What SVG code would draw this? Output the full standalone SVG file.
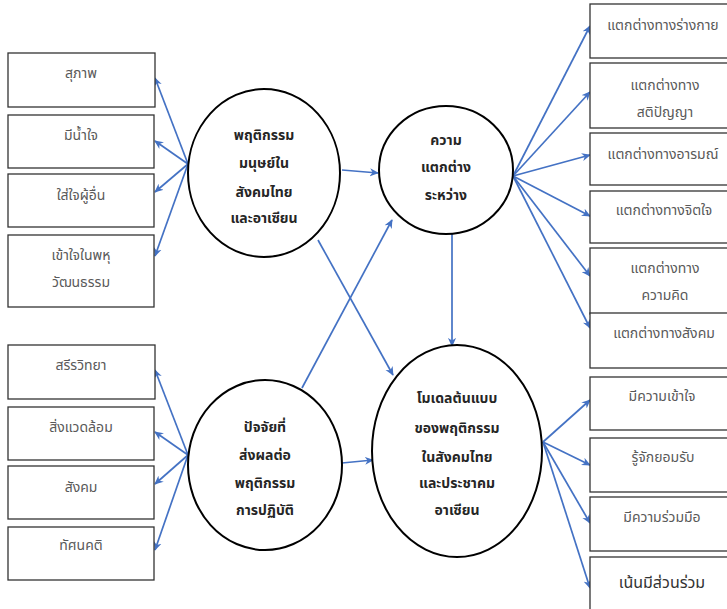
<svg xmlns="http://www.w3.org/2000/svg" width="727" height="609" viewBox="0 0 727 609">
<defs>
<marker id="ah" viewBox="0 0 10 10" refX="9" refY="5" markerWidth="9" markerHeight="9" markerUnits="userSpaceOnUse" orient="auto">
<path d="M0,0.5 L10,5 L0,9.5 L3,5 Z" fill="#4472C4"/>
</marker>
<style>
.box{fill:#fff;stroke:#333;stroke-width:1.3}
.ell{fill:#fff;stroke:#000;stroke-width:2}
.bt{font-family:"Noto Sans Thai","Tahoma","Liberation Sans",sans-serif;font-size:14px;fill:#595959;text-anchor:middle}
.ct{font-family:"Noto Sans Thai","Tahoma","Liberation Sans",sans-serif;font-size:14px;font-weight:bold;fill:#262626;text-anchor:middle}
.cn{fill:none;stroke:#4472C4;stroke-width:1.7;marker-end:url(#ah)}
</style>
</defs>
<rect width="727" height="609" fill="#fff"/>

<g id="connectors">
<line class="cn" x1="188" y1="164" x2="155" y2="78"/>
<line class="cn" x1="188" y1="164" x2="155" y2="141"/>
<line class="cn" x1="188" y1="164" x2="155" y2="192"/>
<line class="cn" x1="188" y1="164" x2="155" y2="256"/>
<line class="cn" x1="342" y1="170" x2="378" y2="173"/>
<line class="cn" x1="513" y1="176" x2="590" y2="26"/>
<line class="cn" x1="513" y1="176" x2="590" y2="92"/>
<line class="cn" x1="513" y1="176" x2="590" y2="155"/>
<line class="cn" x1="513" y1="176" x2="590" y2="216"/>
<line class="cn" x1="513" y1="176" x2="590" y2="276"/>
<line class="cn" x1="513" y1="176" x2="590" y2="328"/>
<line class="cn" x1="452" y1="234" x2="452" y2="346"/>
<line class="cn" x1="318" y1="240" x2="393" y2="375"/>
<line class="cn" x1="302" y1="388" x2="392" y2="220"/>
<line class="cn" x1="188" y1="455" x2="155" y2="370"/>
<line class="cn" x1="188" y1="455" x2="155" y2="432"/>
<line class="cn" x1="188" y1="455" x2="155" y2="484"/>
<line class="cn" x1="188" y1="455" x2="155" y2="550"/>
<line class="cn" x1="342" y1="463" x2="373" y2="460"/>
<line class="cn" x1="543" y1="442" x2="590" y2="400"/>
<line class="cn" x1="543" y1="442" x2="590" y2="465"/>
<line class="cn" x1="543" y1="442" x2="590" y2="523"/>
<line class="cn" x1="543" y1="442" x2="590" y2="588"/>
</g>

<g id="n-suphap"><rect class="box" x="8" y="53" width="147" height="54"/><text class="bt" x="81" y="78">สุภาพ</text></g>
<g id="n-mi-namjai"><rect class="box" x="8" y="115" width="146" height="53"/><text class="bt" x="81" y="140">มีน้ำใจ</text></g>
<g id="n-saijai"><rect class="box" x="8" y="174" width="146" height="53"/><text class="bt" x="81" y="200">ใส่ใจผู้อื่น</text></g>
<g id="n-khaojai"><rect class="box" x="8" y="235" width="146" height="72"/><text class="bt" x="81" y="260">เข้าใจในพหุ</text><text class="bt" x="81" y="287">วัฒนธรรม</text></g>

<g id="n-sari"><rect class="box" x="8" y="345" width="147" height="54"/><text class="bt" x="81" y="370">สรีรวิทยา</text></g>
<g id="n-singwaed"><rect class="box" x="8" y="407" width="146" height="53"/><text class="bt" x="81" y="432">สิ่งแวดล้อม</text></g>
<g id="n-sangkhom"><rect class="box" x="8" y="466" width="146" height="53"/><text class="bt" x="81" y="492">สังคม</text></g>
<g id="n-thatsanakhati"><rect class="box" x="8" y="527" width="146" height="53"/><text class="bt" x="81" y="550">ทัศนคติ</text></g>

<g id="n-behavior"><ellipse class="ell" cx="264" cy="173" rx="76" ry="84"/>
<text class="ct" x="264" y="140">พฤติกรรม</text><text class="ct" x="264" y="168">มนุษย์ใน</text><text class="ct" x="264" y="197">สังคมไทย</text><text class="ct" x="264" y="223">และอาเซียน</text></g>

<g id="n-difference"><ellipse class="ell" cx="446" cy="170" rx="67" ry="64"/>
<text class="ct" x="446" y="145">ความ</text><text class="ct" x="446" y="172">แตกต่าง</text><text class="ct" x="446" y="200">ระหว่าง</text></g>

<g id="n-factors"><ellipse class="ell" cx="265" cy="465" rx="77" ry="85"/>
<text class="ct" x="265" y="432">ปัจจัยที่</text><text class="ct" x="265" y="460">ส่งผลต่อ</text><text class="ct" x="265" y="488">พฤติกรรม</text><text class="ct" x="265" y="515">การปฏิบัติ</text></g>

<g id="n-model"><ellipse class="ell" cx="457" cy="451" rx="85" ry="106"/>
<text class="ct" x="457" y="403">โมเดลต้นแบบ</text><text class="ct" x="457" y="433">ของพฤติกรรม</text><text class="ct" x="457" y="462">ในสังคมไทย</text><text class="ct" x="457" y="488">และประชาคม</text><text class="ct" x="457" y="515">อาเซียน</text></g>

<g id="n-body"><rect class="box" x="590" y="4" width="140" height="54"/><text class="bt" x="663" y="30">แตกต่างทางร่างกาย</text></g>
<g id="n-intellect"><rect class="box" x="590" y="63" width="140" height="65"/><text class="bt" x="665" y="90">แตกต่างทาง</text><text class="bt" x="665" y="117">สติปัญญา</text></g>
<g id="n-emotion"><rect class="box" x="590" y="133" width="140" height="52"/><text class="bt" x="663" y="159">แตกต่างทางอารมณ์</text></g>
<g id="n-mind"><rect class="box" x="590" y="191" width="140" height="52"/><text class="bt" x="664" y="215">แตกต่างทางจิตใจ</text></g>
<g id="n-thought"><rect class="box" x="590" y="248" width="140" height="66"/><text class="bt" x="665" y="273">แตกต่างทาง</text><text class="bt" x="665" y="300">ความคิด</text></g>
<g id="n-social"><rect class="box" x="590" y="313" width="140" height="55"/><text class="bt" x="664" y="338">แตกต่างทางสังคม</text></g>
<g id="n-understand"><rect class="box" x="590" y="377" width="140" height="53"/><text class="bt" x="662" y="401">มีความเข้าใจ</text></g>
<g id="n-accept"><rect class="box" x="590" y="438" width="140" height="54"/><text class="bt" x="663" y="462">รู้จักยอมรับ</text></g>
<g id="n-cooperate"><rect class="box" x="590" y="497" width="140" height="54"/><text class="bt" x="662" y="522">มีความร่วมมือ</text></g>
<g id="n-participate"><rect class="box" x="590" y="557" width="140" height="56"/><text class="bt" x="662" y="588" style="font-size:16px;fill:#333">เน้นมีส่วนร่วม</text></g>
</svg>
